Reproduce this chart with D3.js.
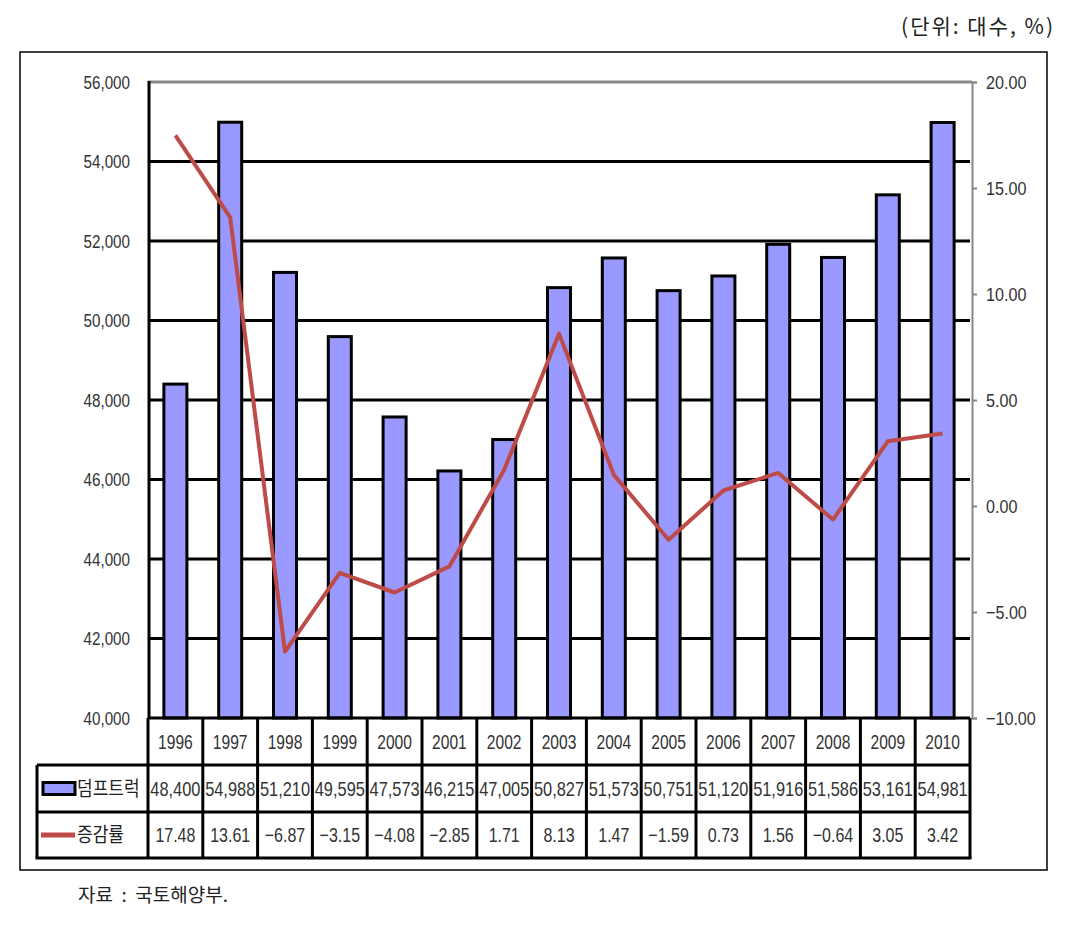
<!DOCTYPE html>
<html>
<head>
<meta charset="utf-8">
<script src="https://cdn.jsdelivr.net/npm/d3@7"></script>
<style>
  body { margin: 0; background: #fff; }
  svg { display: block; }
  .narrow { font-family: "Liberation Sans", sans-serif; fill: #333; }
  .kr { font-family: "Noto Sans CJK KR", sans-serif; fill: #222; }
</style>
</head>
<body>
<svg class="chart" width="1076" height="937"></svg>
<script>
const years = ["1996","1997","1998","1999","2000","2001","2002","2003","2004","2005","2006","2007","2008","2009","2010"];
const trucks = [48400, 54988, 51210, 49595, 47573, 46215, 47005, 50827, 51573, 50751, 51120, 51916, 51586, 53161, 54981];
const rates = [17.48, 13.61, -6.87, -3.15, -4.08, -2.85, 1.71, 8.13, 1.47, -1.59, 0.73, 1.56, -0.64, 3.05, 3.42];
const leftTicks = [40000, 42000, 44000, 46000, 48000, 50000, 52000, 54000, 56000];
const rightTicks = [-10, -5, 0, 5, 10, 15, 20];
const seriesNames = ["덤프트럭", "증감률"];

const plot = { left: 148, right: 970, top: 82, bottom: 718 };
const rowH = [718, 765, 812, 858];
const legendLeft = 37;

const svg = d3.select("svg.chart");

const x = d3.scaleBand().domain(years).range([plot.left, plot.right]);
const yL = d3.scaleLinear().domain([40000, 56000]).range([plot.bottom, plot.top]);
const yR = d3.scaleLinear().domain([-10, 20]).range([plot.bottom, plot.top]);

// condensed text helper (the original uses a narrow font)
function squeeze(sel, cx, cy, s) {
  sel.attr("x", 0).attr("y", 0)
    .attr("transform", (d, i) => "translate(" + cx(d, i) + "," + cy(d, i) + ") scale(" + s + ",1)");
}

// outer frame
svg.append("rect")
  .attr("x", 20).attr("y", 52).attr("width", 1027).attr("height", 818)
  .attr("fill", "none").attr("stroke", "#000").attr("stroke-width", 1.5);

// unit note
svg.append("text")
  .attr("class", "kr")
  .attr("x", 1055).attr("y", 34)
  .attr("text-anchor", "end")
  .style("font-size", "21px")
  .style("letter-spacing", "2px")
  .text("(단위: 대수, %)");

// gridlines
svg.append("g")
  .selectAll("line")
  .data(leftTicks.filter(d => d > 40000 && d < 56000))
  .enter().append("line")
  .attr("x1", plot.left).attr("x2", plot.right)
  .attr("y1", d => yL(d)).attr("y2", d => yL(d))
  .attr("stroke", "#000").attr("stroke-width", 3);

// top border (gray) and right axis (gray)
svg.append("line")
  .attr("x1", plot.left).attr("x2", plot.right + 2)
  .attr("y1", plot.top).attr("y2", plot.top)
  .attr("stroke", "#888").attr("stroke-width", 3);

const rAxis = svg.append("g")
  .attr("transform", "translate(" + (plot.right + 2) + ",0)")
  .call(d3.axisRight(yR).tickValues(rightTicks).tickSize(5).tickPadding(8).tickFormat(d3.format(".2f")));
rAxis.select(".domain").attr("stroke", "#888").attr("stroke-width", 2);
rAxis.selectAll(".tick line").attr("stroke", "#888").attr("stroke-width", 2);
rAxis.selectAll("text")
  .attr("class", "narrow")
  .style("font-size", "19px")
  .attr("x", 14 / 0.85)
  .attr("dy", "0.35em")
  .attr("transform", "scale(0.85,1)")
  .text(d => d3.format(".2f")(d).replace("-", "−"));

// left axis labels
svg.append("g")
  .selectAll("text")
  .data(leftTicks)
  .enter().append("text")
  .attr("class", "narrow")
  .attr("dy", "0.35em")
  .attr("text-anchor", "end")
  .style("font-size", "19px")
  .text(d => d3.format(",")(d))
  .call(squeeze, () => 130, d => yL(d), 0.8);

// bars
const barW = x.bandwidth() * 0.42;
svg.append("g")
  .selectAll("rect")
  .data(trucks)
  .enter().append("rect")
  .attr("x", (d, i) => x(years[i]) + x.bandwidth() / 2 - barW / 2)
  .attr("y", d => yL(d))
  .attr("width", barW)
  .attr("height", d => plot.bottom - yL(d))
  .attr("fill", "#9999ff")
  .attr("stroke", "#000").attr("stroke-width", 3);

// left axis line
svg.append("line")
  .attr("x1", plot.left + 1).attr("x2", plot.left + 1)
  .attr("y1", plot.top - 1).attr("y2", plot.bottom)
  .attr("stroke", "#000").attr("stroke-width", 3);

// rate line
const line = d3.line()
  .x((d, i) => x(years[i]) + x.bandwidth() / 2)
  .y(d => yR(d));

svg.append("path")
  .datum(rates)
  .attr("d", line)
  .attr("fill", "none")
  .attr("stroke", "#be4b48")
  .attr("stroke-width", 4)
  .attr("stroke-linejoin", "round");

// data table
const table = svg.append("g");

function hline(x1, x2, y) {
  table.append("line").attr("x1", x1).attr("x2", x2).attr("y1", y).attr("y2", y)
    .attr("stroke", "#000").attr("stroke-width", 3);
}
function vline(xx, y1, y2) {
  table.append("line").attr("x1", xx).attr("x2", xx).attr("y1", y1).attr("y2", y2)
    .attr("stroke", "#000").attr("stroke-width", 3);
}

hline(plot.left, plot.right, rowH[0]);
hline(legendLeft, plot.right, rowH[1]);
hline(legendLeft, plot.right, rowH[2]);
hline(legendLeft - 1.5, plot.right + 1.5, rowH[3]);
vline(legendLeft, rowH[1], rowH[3]);
years.forEach(y => vline(x(y), rowH[0], rowH[3]));
vline(plot.right, rowH[0], rowH[3]);

const rowMid = i => (rowH[i] + rowH[i + 1]) / 2;
const colMid = (d, i) => x(years[i]) + x.bandwidth() / 2;

table.selectAll("text.year")
  .data(years)
  .enter().append("text")
  .attr("class", "narrow year")
  .attr("dy", "0.35em")
  .attr("text-anchor", "middle")
  .style("font-size", "20px")
  .text(d => d)
  .call(squeeze, colMid, () => rowMid(0), 0.78);

table.selectAll("text.val")
  .data(trucks)
  .enter().append("text")
  .attr("class", "narrow val")
  .attr("dy", "0.35em")
  .attr("text-anchor", "middle")
  .style("font-size", "20px")
  .text(d => d3.format(",")(d))
  .call(squeeze, colMid, () => rowMid(1), 0.82);

table.selectAll("text.rate")
  .data(rates)
  .enter().append("text")
  .attr("class", "narrow rate")
  .attr("dy", "0.35em")
  .attr("text-anchor", "middle")
  .style("font-size", "20px")
  .text(d => d3.format(".2f")(d).replace("-", "−"))
  .call(squeeze, colMid, () => rowMid(2), 0.8);

// legend in table
table.append("rect")
  .attr("x", 43).attr("y", rowMid(1) - 6).attr("width", 32).attr("height", 12)
  .attr("fill", "#9999ff").attr("stroke", "#000").attr("stroke-width", 3);
table.append("line")
  .attr("x1", 41).attr("x2", 75).attr("y1", rowMid(2)).attr("y2", rowMid(2))
  .attr("stroke", "#be4b48").attr("stroke-width", 5);

table.selectAll("text.lg")
  .data(seriesNames)
  .enter().append("text")
  .attr("class", "kr lg")
  .attr("dy", "0.35em")
  .style("font-size", "20px")
  .text(d => d)
  .call(squeeze, () => 77, (d, i) => rowMid(i + 1), 0.85);

// source
svg.append("text")
  .attr("class", "kr")
  .attr("x", 78).attr("y", 902)
  .style("font-size", "19px")
  .style("white-space", "pre")
  .text("자료  :  국토해양부.");
</script>
</body>
</html>
